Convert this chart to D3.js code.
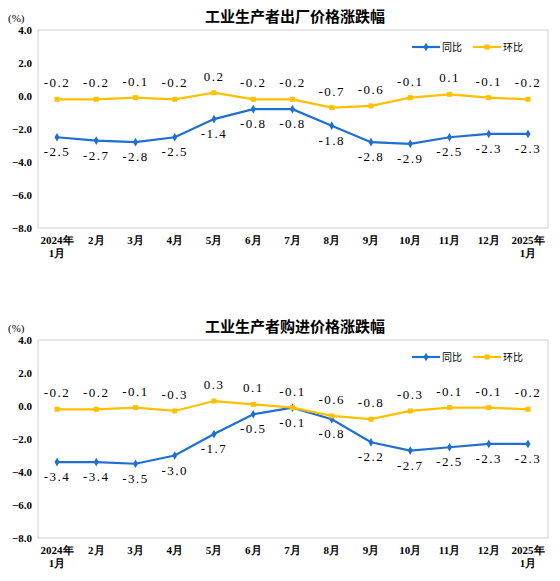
<!DOCTYPE html>
<html><head><meta charset="utf-8">
<script src="https://cdn.jsdelivr.net/npm/d3@7"></script>
<style>body{margin:0;background:#fff}</style>
</head><body>
<svg id="c" width="560" height="581"></svg>
<script>
var months = ["2024年|1月","2月","3月","4月","5月","6月","7月","8月","9月","10月","11月","12月","2025年|1月"];
var yTicks = [4, 2, 0, -2, -4, -6, -8];
var outYoY = [-2.5,-2.7,-2.8,-2.5,-1.4,-0.8,-0.8,-1.8,-2.8,-2.9,-2.5,-2.3,-2.3];
var outMoM = [-0.2,-0.2,-0.1,-0.2,0.2,-0.2,-0.2,-0.7,-0.6,-0.1,0.1,-0.1,-0.2];
var inYoY = [-3.4,-3.4,-3.5,-3.0,-1.7,-0.5,-0.1,-0.8,-2.2,-2.7,-2.5,-2.3,-2.3];
var inMoM = [-0.2,-0.2,-0.1,-0.3,0.3,0.1,-0.1,-0.6,-0.8,-0.3,-0.1,-0.1,-0.2];

var svg = d3.select("#c");
var blue = "#1f6fd1", yellow = "#ffc000";
var cjk = "'Noto Sans CJK SC', sans-serif", num = "'Liberation Serif', serif";

function chart(top, title, yoy, mom) {
  var g = svg.append("g");
  var x = d3.scalePoint().domain(d3.range(months.length)).range([57, 528]);
  var y = d3.scaleLinear().domain([-8, 4]).range([top + 198, top]);
  g.append("rect").attr("x", 38).attr("y", top).attr("width", 510).attr("height", 198)
    .attr("fill", "none").attr("stroke", "#d0d0d0");
  g.append("text").attr("x", 8).attr("y", top - 8).text("(%)")
    .attr("font-family", num).attr("font-size", 11);
  g.append("text").attr("x", 295).attr("y", top - 8).attr("text-anchor", "middle")
    .text(title).attr("font-family", cjk).attr("font-size", 15).attr("font-weight", "bold");
  var ya = g.append("g").attr("transform", "translate(38,0)")
    .call(d3.axisLeft(y).tickValues(yTicks).tickFormat(d3.format(".1f")).tickSize(0).tickPadding(6));
  ya.select(".domain").remove();
  ya.selectAll("text").attr("font-family", num).attr("font-size", 11).attr("font-weight", "bold");
  months.forEach(function(m, i) {
    var parts = m.split("|");
    var t = g.append("text").attr("x", x(i)).attr("y", top + 214).attr("text-anchor", "middle")
      .attr("font-family", num).attr("font-size", 11).attr("font-weight", "bold");
    parts.forEach(function(p, j) { t.append("tspan").attr("x", x(i)).attr("dy", j ? 13 : 0).text(p); });
  });
  var line = d3.line().x(function(d, i) { return x(i); }).y(function(d) { return y(d); });
  [[yoy, blue, 1], [mom, yellow, -1]].forEach(function(s) {
    g.append("path").datum(s[0]).attr("d", line).attr("fill", "none")
      .attr("stroke", s[1]).attr("stroke-width", 2.2);
    s[0].forEach(function(v, i) {
      if (s[2] > 0) {
        g.append("path").attr("d", d3.symbol(d3.symbolDiamond, 22)())
          .attr("transform", "translate(" + x(i) + "," + y(v) + ")").attr("fill", s[1]);
      } else {
        g.append("rect").attr("x", x(i) - 2.5).attr("y", y(v) - 2.5).attr("width", 5).attr("height", 5).attr("fill", s[1]);
      }
      g.append("text").attr("x", x(i)).attr("y", y(v) + (s[2] > 0 ? 19 : -12))
        .attr("text-anchor", "middle").attr("font-family", num).attr("font-size", 13)
        .attr("letter-spacing", 1.5).text(d3.format(".1f")(v).replace("−", "-"));
    });
  });
  // legend
  var ly = top + 17;
  g.append("line").attr("x1", 412).attr("x2", 440).attr("y1", ly).attr("y2", ly).attr("stroke", blue).attr("stroke-width", 2.2);
  g.append("path").attr("d", d3.symbol(d3.symbolDiamond, 22)()).attr("transform", "translate(426," + ly + ")").attr("fill", blue);
  g.append("text").attr("x", 442).attr("y", ly + 4).text("同比").attr("font-family", cjk).attr("font-size", 10);
  g.append("line").attr("x1", 473).attr("x2", 501).attr("y1", ly).attr("y2", ly).attr("stroke", yellow).attr("stroke-width", 2.2);
  g.append("rect").attr("x", 484.5).attr("y", ly - 2.5).attr("width", 5).attr("height", 5).attr("fill", yellow);
  g.append("text").attr("x", 503).attr("y", ly + 4).text("环比").attr("font-family", cjk).attr("font-size", 10);
}
chart(30, "工业生产者出厂价格涨跌幅", outYoY, outMoM);
chart(340, "工业生产者购进价格涨跌幅", inYoY, inMoM);
</script>
</body></html>
